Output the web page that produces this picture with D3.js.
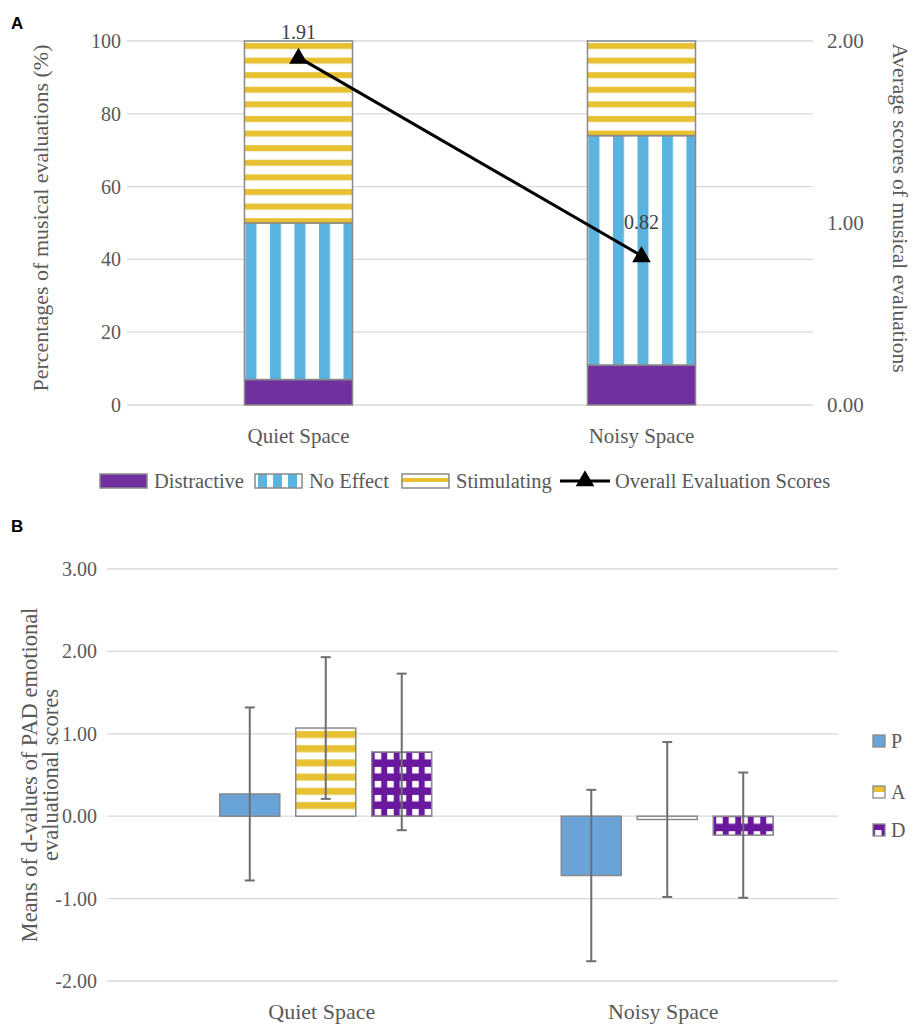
<!DOCTYPE html>
<html><head><meta charset="utf-8">
<script src="https://cdn.jsdelivr.net/npm/d3@7"></script>
<style>body{margin:0;background:#fff}svg{display:block}svg text{font-family:"Liberation Serif","Times New Roman",serif;fill:#595959}</style>
</head><body><svg id="c" width="914" height="1025"></svg>
<script>
// ---------- Panel A data ----------
const categories = ["Quiet Space", "Noisy Space"];
const stackKeys = ["Distractive", "No Effect", "Stimulating"];
const distractive = [7, 11];
const noEffect = [43, 63];
const stimulating = [50, 26];
const overallScores = [1.91, 0.82];
const leftTicksA = [0, 20, 40, 60, 80, 100];
const rightTicksA = [0, 1, 2];
// ---------- Panel B data ----------
const padSeries = ["P", "A", "D"];
const meansQuiet = [0.27, 1.07, 0.78];
const meansNoisy = [-0.72, -0.04, -0.23];
const errQuiet = [1.05, 0.86, 0.95];
const errNoisy = [1.04, 0.94, 0.76];
const ticksB = [-2, -1, 0, 1, 2, 3];

const svg = d3.select("#c");
const defs = svg.append("defs");
const GRID = "#d9d9d9", BORDER = "#898989";
const PURPLE = "#7030a0", BLUE = "#5bb3e0", YELLOW = "#e8c132", PBLUE = "#6aa3d8", DPURPLE = "#6a189e";
const FS = 20;

function hStripe(id, x, y, period, thick, offset) {
  const p = defs.append("pattern").attr("id", id).attr("patternUnits", "userSpaceOnUse")
    .attr("x", x).attr("y", y).attr("width", 20).attr("height", period);
  p.append("rect").attr("width", 20).attr("height", period).attr("fill", "#fff");
  p.append("rect").attr("y", offset).attr("width", 20).attr("height", thick).attr("fill", YELLOW);
}
function vStripe(id, x, y, period, thick, offset) {
  const p = defs.append("pattern").attr("id", id).attr("patternUnits", "userSpaceOnUse")
    .attr("x", x).attr("y", y).attr("width", period).attr("height", 20);
  p.append("rect").attr("width", period).attr("height", 20).attr("fill", "#fff");
  p.append("rect").attr("x", offset).attr("width", thick).attr("height", 20).attr("fill", BLUE);
}
function checker(id, x, y) {
  const p = defs.append("pattern").attr("id", id).attr("patternUnits", "userSpaceOnUse")
    .attr("x", x).attr("y", y).attr("width", 12.5).attr("height", 14);
  p.append("rect").attr("width", 12.5).attr("height", 14).attr("fill", DPURPLE);
  p.append("rect").attr("x", 4).attr("y", 4).attr("width", 6.5).attr("height", 6.5).attr("fill", "#fff");
}

// ================= PANEL A =================
const A = {l: 127, r: 813, t: 41, b: 405};
const xA = d3.scaleBand().domain(categories).range([A.l, A.r]);
const yA = d3.scaleLinear().domain([0, 100]).range([A.b, A.t]);
const yA2 = d3.scaleLinear().domain([0, 2]).range([A.b, A.t]);
const gA = svg.append("g");

gA.append("g").selectAll("line").data(leftTicksA).join("line")
  .attr("x1", A.l).attr("x2", A.r).attr("y1", d => yA(d)).attr("y2", d => yA(d))
  .attr("stroke", GRID).attr("stroke-width", 1.3);
gA.append("g").selectAll("text").data(leftTicksA).join("text")
  .attr("x", A.l - 6).attr("y", d => yA(d) + 7).attr("text-anchor", "end")
  .attr("font-size", FS).text(d => d);
gA.append("g").selectAll("text").data(rightTicksA).join("text")
  .attr("x", A.r + 14).attr("y", d => yA2(d) + 7).attr("text-anchor", "start")
  .attr("font-size", FS + 1).text(d => d3.format(".2f")(d));
gA.selectAll("text.cat").data(categories).join("text").attr("class", "cat")
  .attr("x", d => xA(d) + xA.bandwidth() / 2).attr("y", 443).attr("text-anchor", "middle")
  .attr("font-size", 21).text(d => d);

gA.append("text").attr("transform", `translate(48,${(A.t + A.b) / 2 - 5}) rotate(-90)`)
  .attr("text-anchor", "middle").attr("font-size", 22).text("Percentages of musical evaluations (%)");
gA.append("text").attr("transform", `translate(893,${(A.t + A.b) / 2 - 15}) rotate(90)`)
  .attr("text-anchor", "middle").attr("font-size", 21.5).text("Average scores of musical evaluations");

const stackData = categories.map((c, i) => ({cat: c, "Distractive": distractive[i], "No Effect": noEffect[i], "Stimulating": stimulating[i]}));
const stacked = d3.stack().keys(stackKeys)(stackData);
const bwA = xA.bandwidth() * 0.315;
stacked.forEach((layer, li) => {
  layer.forEach((seg, ci) => {
    const x0 = xA(categories[ci]) + (xA.bandwidth() - bwA) / 2;
    const y0 = yA(seg[1]), h = yA(seg[0]) - yA(seg[1]);
    let fill = PURPLE;
    if (li === 1) { const id = "ne" + ci; vStripe(id, x0, 0, 24.5, 11, 1); fill = `url(#${id})`; }
    if (li === 2) { const id = "st" + ci; hStripe(id, 0, y0, 14.6, 6, 2); fill = `url(#${id})`; }
    gA.append("rect").attr("x", x0).attr("y", y0).attr("width", bwA).attr("height", h)
      .attr("fill", fill).attr("stroke", BORDER).attr("stroke-width", 1.5);
  });
});

const lineA = d3.line().x((d, i) => xA(categories[i]) + xA.bandwidth() / 2).y(d => yA2(d));
gA.append("path").datum(overallScores).attr("d", lineA).attr("fill", "none")
  .attr("stroke", "#000").attr("stroke-width", 3);
const tri = d3.symbol().type(d3.symbolTriangle).size(150);
gA.selectAll("path.tri").data(overallScores).join("path").attr("class", "tri")
  .attr("transform", (d, i) => `translate(${xA(categories[i]) + xA.bandwidth() / 2},${yA2(d) + 1})`)
  .attr("d", tri).attr("fill", "#000");
const labOff = [-18, -27];
gA.selectAll("text.val").data(overallScores).join("text").attr("class", "val")
  .attr("x", (d, i) => xA(categories[i]) + xA.bandwidth() / 2)
  .attr("y", (d, i) => yA2(d) + labOff[i]).attr("text-anchor", "middle")
  .attr("font-size", FS).style("fill", "#404040").text(d => d3.format(".2f")(d));

// legend A
const legA = gA.append("g");
const legItems = [
  {name: "Distractive", x: 100, type: "p"},
  {name: "No Effect", x: 255, type: "n"},
  {name: "Stimulating", x: 402, type: "s"},
  {name: "Overall Evaluation Scores", x: 560, type: "l"}];
vStripe("legne", 255, 0, 15, 9, 3);
hStripe("legst", 0, 474, 14, 4, 4);
legItems.forEach(it => {
  if (it.type === "l") {
    legA.append("line").attr("x1", it.x).attr("x2", it.x + 50).attr("y1", 481).attr("y2", 481)
      .attr("stroke", "#000").attr("stroke-width", 3);
    legA.append("path").attr("transform", `translate(${it.x + 25},481)`).attr("d", tri).attr("fill", "#000");
    legA.append("text").attr("x", it.x + 55).attr("y", 488).attr("font-size", 20.5).text(it.name);
  } else {
    const f = it.type === "p" ? PURPLE : it.type === "n" ? "url(#legne)" : "url(#legst)";
    legA.append("rect").attr("x", it.x).attr("y", 474).attr("width", 47).attr("height", 14)
      .attr("fill", f).attr("stroke", BORDER).attr("stroke-width", 1.5);
    legA.append("text").attr("x", it.x + 54).attr("y", 488).attr("font-size", 20.5).text(it.name);
  }
});

svg.append("text").attr("x", 11).attr("y", 29).attr("font-size", 17).attr("font-weight", "bold")
  .style("font-family", "'Liberation Sans',Arial,sans-serif").style("fill", "#000").text("A");
svg.append("text").attr("x", 11).attr("y", 532).attr("font-size", 17).attr("font-weight", "bold")
  .style("font-family", "'Liberation Sans',Arial,sans-serif").style("fill", "#000").text("B");

// ================= PANEL B =================
const B = {gl: 107, l: 155, r: 838, t: 569, b: 981};
const xB = d3.scaleBand().domain(categories).range([B.l, B.r]);
const xS = d3.scaleBand().domain(padSeries).range([0, 212]).paddingInner(0.21);
const yB = d3.scaleLinear().domain([-2, 3]).range([B.b, B.t]);
const gB = svg.append("g");
gB.append("g").selectAll("line").data(ticksB).join("line")
  .attr("x1", B.gl).attr("x2", B.r).attr("y1", d => yB(d)).attr("y2", d => yB(d))
  .attr("stroke", GRID).attr("stroke-width", 1.3);
gB.append("g").selectAll("text").data(ticksB).join("text")
  .attr("x", B.gl - 10).attr("y", d => yB(d) + 7).attr("text-anchor", "end")
  .attr("font-size", FS).text(d => d3.format(".2f")(d).replace("−", "-"));
gB.selectAll("text.cat").data(categories).join("text").attr("class", "cat")
  .attr("x", d => xB(d) + xB.bandwidth() / 2 - 4).attr("y", 1019).attr("text-anchor", "middle")
  .attr("font-size", 22).text(d => d);
const yl = gB.append("text").attr("transform", `translate(37,${(B.t + B.b) / 2}) rotate(-90)`)
  .attr("text-anchor", "middle").attr("font-size", 22.5);
yl.append("tspan").attr("x", 0).attr("dy", 0).text("Means of d-values of PAD emotional");
yl.append("tspan").attr("x", 0).attr("dy", 21).text("evaluational scores");

const rowsB = [];
categories.forEach((c, ci) => {
  const m = ci === 0 ? meansQuiet : meansNoisy, e = ci === 0 ? errQuiet : errNoisy;
  padSeries.forEach((s, si) => rowsB.push({c, s, v: m[si], e: e[si], ci, si}));
});
rowsB.forEach(d => {
  const x0 = xB(d.c) + (xB.bandwidth() - 212) / 2 + xS(d.s);
  const w = xS.bandwidth();
  const y0 = yB(Math.max(0, d.v)), h = Math.abs(yB(d.v) - yB(0));
  let fill = PBLUE;
  if (d.s === "A") { const id = "bA" + d.ci; hStripe(id, 0, y0, 14.2, 7, 3); fill = d.v < 0 ? "#fff" : `url(#${id})`; }
  if (d.s === "D") { const id = "bD" + d.ci; checker(id, x0 - 1, y0 - 3); fill = `url(#${id})`; }
  gB.append("rect").attr("x", x0).attr("y", y0).attr("width", w).attr("height", h)
    .attr("fill", fill).attr("stroke", BORDER).attr("stroke-width", 1.5);
  const cx = x0 + w / 2;
  gB.append("line").attr("x1", cx).attr("x2", cx).attr("y1", yB(d.v + d.e)).attr("y2", yB(d.v - d.e))
    .attr("stroke", "#6e6e6e").attr("stroke-width", 2);
  [d.v + d.e, d.v - d.e].forEach(v => gB.append("line").attr("x1", cx - 5).attr("x2", cx + 5)
    .attr("y1", yB(v)).attr("y2", yB(v)).attr("stroke", "#6e6e6e").attr("stroke-width", 2));
});

// legend B
hStripe("legA", 0, 786, 12, 6, 0);
checker("legD", 871, 826);
const legB = gB.append("g");
padSeries.forEach((s, i) => {
  const y = [741, 792, 830][i];
  const f = i === 0 ? PBLUE : i === 1 ? "url(#legA)" : "url(#legD)";
  legB.append("rect").attr("x", 873).attr("y", y - 6).attr("width", 12).attr("height", 12)
    .attr("fill", f).attr("stroke", BORDER).attr("stroke-width", 1.3);
  legB.append("text").attr("x", 891).attr("y", y + 7).attr("font-size", 20).text(s);
});
</script></body></html>
